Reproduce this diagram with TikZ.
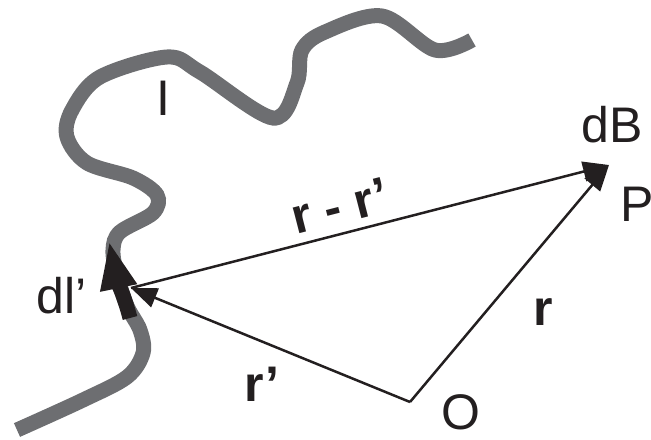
\documentclass[tikz,border=0pt]{standalone}
\usepackage{fontspec}
\setmainfont{Liberation Sans}
\usetikzlibrary{arrows.meta}
\definecolor{wire}{HTML}{6D6E71}
\definecolor{ink}{HTML}{231F20}
\begin{document}
\begin{tikzpicture}[x=0.5pt,y=-0.5pt,
  lbl/.style={inner sep=0pt, text=ink, font=\fontsize{25}{30}\selectfont},
  vec/.style={draw=ink, line width=1.25pt, -{Triangle[length=13pt,width=10pt]}},
  wirestyle/.style={draw=wire, line width=7.5pt, line cap=butt}]
\useasboundingbox (0,0) rectangle (651,439);
% current-carrying wire
\draw[wirestyle] plot[smooth, tension=0.55] coordinates {
  (17,430) (83,400) (127,377) (143,353) (140,330) (127,306) (117,275) (113,250)
  (120,232) (153,213) (157,195) (133,178) (87,163) (67,137) (72,110) (100,77)
  (167,57) (200,72) (273,118) (297,83) (302,50) (325,32) (382,16) (435,50) (472,40)};
% current element dl'
\draw[draw=ink, line width=7.5pt, -{Triangle[length=24pt,width=17pt]}]
  (130,318) .. controls (124,295) and (117,280) .. (109,241);
% points
\coordinate (O) at (410,402);
\coordinate (P) at (609,165);
\coordinate (S) at (131,288);
% vectors
\draw[vec] (O) -- (S);
\draw[vec] (O) -- (P);
\draw[vec] (S) -- (P);
% labels
\node[lbl] (Ilab) at (163,98) {I};
\node[lbl] (dB) at (612,125) {dB};
\node[lbl] (Plab) at (637,204) {P};
\node[lbl] (Olab) at (461,412) {O};
\node[lbl] (dl) at (62,296) {dl’};
\node[lbl, font=\fontsize{25}{30}\selectfont\bfseries] (rp) at (262,384) {r’};
\node[lbl, font=\fontsize{25}{30}\selectfont\bfseries] (r) at (543,312) {r};
\node[lbl, font=\fontsize{25}{30}\selectfont\bfseries, rotate=14.4] (rmr) at (340,206) {r - r’};
\end{tikzpicture}
\end{document}
